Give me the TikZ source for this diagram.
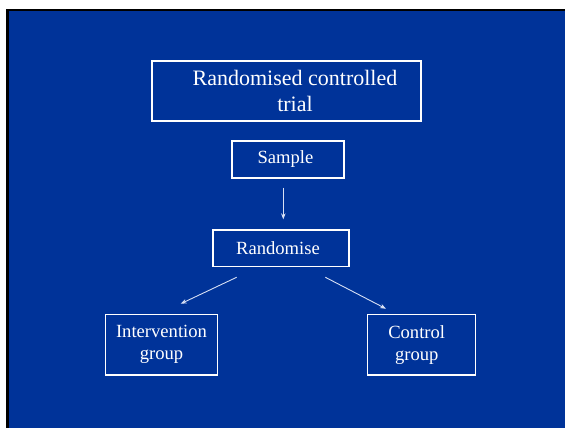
\documentclass[tikz,border=0pt]{standalone}
\usepackage{fontspec}
\setmainfont{Liberation Serif}
\usetikzlibrary{arrows.meta}
\definecolor{slideblue}{HTML}{003399}
\definecolor{arrowcol}{HTML}{D8E0F4}
\tikzset{
  box/.style={draw=white, line width=1.2pt, inner sep=0pt, align=center, text=white, font=\fontsize{18.6pt}{22pt}\selectfont},
  bigbox/.style={box, font=\fontsize{22pt}{26pt}\selectfont},
  conn/.style={draw=arrowcol, line width=0.9pt, -{Stealth[length=6pt,width=4.5pt]}}
}
\begin{document}
\begin{tikzpicture}[x=1pt,y=-1pt]
\useasboundingbox (0,0) rectangle (565,428);
\fill[white] (0,0) rectangle (565,428);
\fill[black] (6,9) rectangle (565,428);
\fill[slideblue] (8.5,11.5) rectangle (565,428);
\node[bigbox, minimum width=269pt, minimum height=60pt] (title) at (286.5,91)
  {\hspace*{17pt}Randomised controlled\\\hspace*{17pt}trial};
\node[box, minimum width=112pt, minimum height=37pt] (sample) at (288,159.5) {Sample\hspace*{5pt}};
\node[box, minimum width=136pt, minimum height=36.7pt] (rand) at (281,248.3) {Randomise\hspace*{6pt}};
\node[box, minimum width=112.4pt, minimum height=60.7pt] (inter) at (161.5,344.7) {Intervention\\group};
\node[box, minimum width=108pt, minimum height=60.7pt] (ctrl) at (421.7,344.7) {Control\hspace*{10pt}\\group\hspace*{10pt}};
\draw[conn] ([xshift=-4.7pt,yshift=-9pt]sample.south) -- ([xshift=2.3pt,yshift=10pt]rand.north);
\draw[conn] ([xshift=-44.3pt,yshift=-10pt]rand.south) -- ([xshift=19.2pt,yshift=10pt]inter.north);
\draw[conn] ([xshift=44.3pt,yshift=-10pt]rand.south) -- ([xshift=-35.7pt,yshift=5pt]ctrl.north);
\end{tikzpicture}
\end{document}
